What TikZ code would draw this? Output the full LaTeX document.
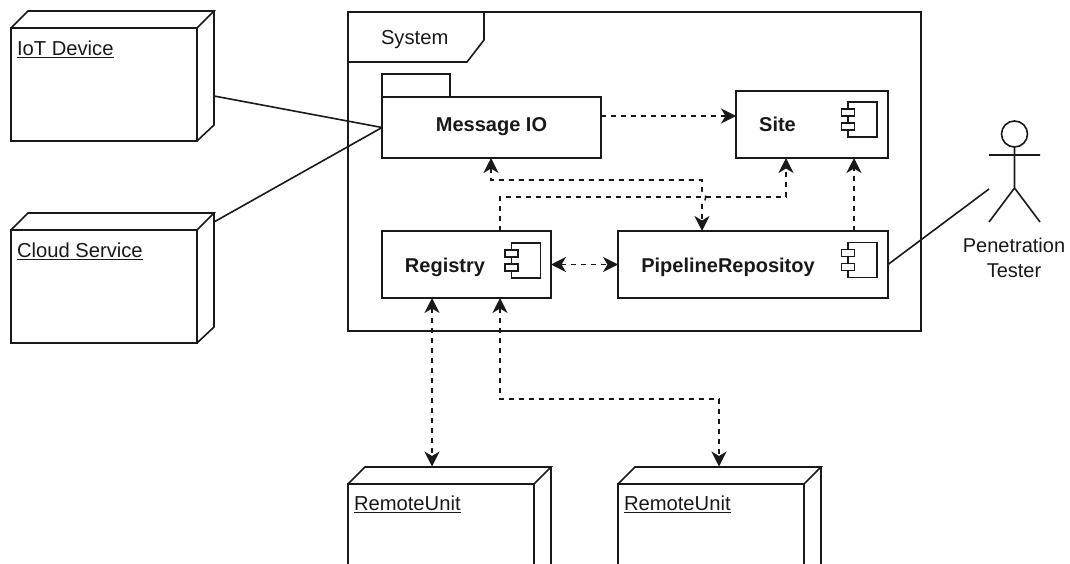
\documentclass[tikz,border=0pt]{standalone}
\usepackage{fontspec}
\setmainfont{Liberation Sans}
\usetikzlibrary{arrows.meta,calc}
\tikzset{
  ln/.style={line width=1.6pt,draw=black!90,line join=miter},
  box/.style={ln,rectangle,inner sep=0pt,outer sep=0pt},
  lbl/.style={font=\fontsize{20.2pt}{24pt}\selectfont,text=black!90,inner sep=0pt,outer sep=0pt,anchor=base west},
  blbl/.style={font=\fontsize{20pt}{24pt}\selectfont\bfseries,text=black!90,inner sep=0pt,outer sep=0pt,anchor=base},
  tipc/.style={Stealth[length=15pt,width=15pt,inset=4.5pt]},
  dep/.style={line width=1.6pt,draw=black!90,dash pattern=on 5pt off 5pt,-{Stealth[length=15pt,width=15pt,inset=4.5pt]}},
  bidep/.style={line width=1.6pt,draw=black!90,dash pattern=on 5pt off 5pt,{Stealth[length=15pt,width=15pt,inset=4.5pt]}-{Stealth[length=15pt,width=15pt,inset=4.5pt]}},
  assoc/.style={line width=1.6pt,draw=black!90}
}
\newcommand{\nodeback}[1]{% 3D faces of a deployment node, from its front face
  \draw[ln] (#1.north west) -- ++(17,-17) -- ++(186,0) -- ++(-17,17)
    (#1.north east) ++(17,-17) -- ++(0,114) -- ($(#1.south east)$);
}
\newcommand{\compglyph}[2]{% glyph with its body's top-left corner at (#1,#2)
  \draw[ln] (#1,#2) rectangle ++(29,35);
  \draw[ln,fill=white] (#1-6.5,#2+7) rectangle ++(13,7);
  \draw[ln,fill=white] (#1-6.5,#2+21) rectangle ++(13,7);
}
\begin{document}
\begin{tikzpicture}[x=1pt,y=-1pt]
\useasboundingbox (0,0) rectangle (1070,564);
\clip (0,0) rectangle (1070,564);
% deployment nodes
\node[box,minimum width=186pt,minimum height=113pt] (iot) at (104,84.5) {};
\nodeback{iot}
\node[lbl] (iotl) at (17,55.5) {\underline{IoT Device}};
\node[box,minimum width=186pt,minimum height=113pt] (cloud) at (104,286.5) {};
\nodeback{cloud}
\node[lbl] (cloudl) at (17,257.5) {\underline{Cloud Service}};
\node[box,minimum width=186pt,minimum height=113pt] (ru1) at (441,540.5) {};
\nodeback{ru1}
\node[lbl] (ru1l) at (354,510.5) {\underline{RemoteUnit}};
\node[box,minimum width=186pt,minimum height=113pt] (ru2) at (711,540.5) {};
\nodeback{ru2}
\node[lbl] (ru2l) at (624,510.5) {\underline{RemoteUnit}};
% system frame
\node[box,minimum width=573pt,minimum height=319pt] (sys) at (634.5,171.5) {};
\draw[ln] (sys.north west |- 0,62) -- (467,62) -- (484,40) -- (484,12);
\node[lbl] (sysl) at (381,45) {System};
% package
\node[box,minimum width=219pt,minimum height=61pt] (msg) at (491.5,127.5) {};
\draw[ln] (msg.north west) -- (382,74) -- (450,74) -- (450,97);
\node[blbl] (msgl) at (491.5,132) {Message IO};
% components
\node[box,minimum width=152pt,minimum height=67pt] (site) at (812,124.5) {};
\node[blbl] (sitel) at (777.5,132) {Site};
\compglyph{848}{102}
\node[box,minimum width=169pt,minimum height=67pt] (reg) at (466.5,264.5) {};
\node[blbl] (regl) at (445,272) {Registry};
\compglyph{511.5}{243}
\node[box,minimum width=270pt,minimum height=67pt] (pipe) at (753,264.5) {};
\node[blbl] (pipel) at (728,272) {PipelineRepositoy};
\compglyph{848}{242.5}
% actor
\node[circle,ln,minimum size=26pt,inner sep=0pt,outer sep=0pt] (head) at (1014.5,134) {};
\coordinate (hip) at (1014.5,188);
\coordinate (hand) at (989,189);
\draw[ln] (head.south) -- (hip) -- (989,222) (hip) -- (1040,222) (989,155) -- (1040,155);
\node[font=\fontsize{20pt}{24pt}\selectfont,text=black!90,inner sep=0pt,anchor=base] (act1) at (1014,252) {Penetration};
\node[font=\fontsize{20pt}{24pt}\selectfont,text=black!90,inner sep=0pt,anchor=base] (act2) at (1014,277) {Tester};
% solid connectors
\coordinate (iotp) at (214,96);
\coordinate (cloudp) at (214,222);
\draw[assoc] (iotp) -- (msg.west);
\draw[assoc] (cloudp) -- (msg.west);
\draw[assoc] (pipe.east) -- (hand);
% dashed connectors
\draw[dep] (msg.east |- 0,116) -- (site.west |- 0,116);
\draw[dep] (854,231) -- (854,158);
\draw[dep] (500,231) -- (500,197) -- (786,197) -- (786,158);
\draw[bidep] (491,158) -- (491,180) -- (702,180) -- (702,191) .. controls (707,192) and (707,202) .. (702,203) -- (702,231);
\draw[bidep] (reg.east) -- (pipe.west);
\draw[bidep] (432,298) -- (432,466.5);
\draw[bidep] (500,298) -- (500,399) -- (719,399) -- (719,466.5);
\end{tikzpicture}
\end{document}
